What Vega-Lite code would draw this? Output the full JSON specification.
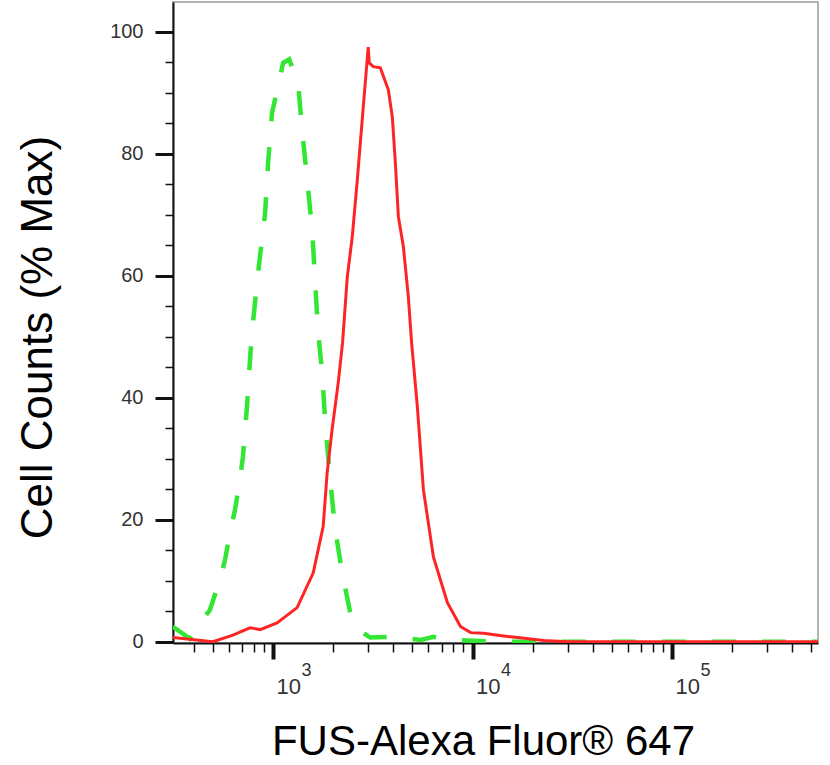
{
  "$schema": "https://vega.github.io/schema/vega-lite/v6.json",
  "width": 645,
  "height": 641,
  "autosize": "none",
  "padding": {"left": 173, "top": 2, "right": 12, "bottom": 122},
  "config": {
    "view": {"stroke": "#9a9a9a", "strokeWidth": 1.5},
    "font": "Liberation Sans",
    "axis": {
      "grid": false,
      "labelFont": "Liberation Sans",
      "titleFont": "Liberation Sans",
      "domainColor": "#111",
      "domainWidth": 2,
      "tickColor": "#111",
      "labelColor": "#333",
      "titleColor": "#000",
      "titleFontWeight": "normal"
    }
  },
  "data": {
    "values": [
      {"sample": "Control", "fl": 314, "pct": 2.5},
      {"sample": "Control", "fl": 383, "pct": 0.5},
      {"sample": "Control", "fl": 430, "pct": 3.1},
      {"sample": "Control", "fl": 482, "pct": 5.2},
      {"sample": "Control", "fl": 542, "pct": 10.2},
      {"sample": "Control", "fl": 574, "pct": 13.4},
      {"sample": "Control", "fl": 608, "pct": 17.9},
      {"sample": "Control", "fl": 644, "pct": 21.6},
      {"sample": "Control", "fl": 682, "pct": 26.6},
      {"sample": "Control", "fl": 706, "pct": 30.3},
      {"sample": "Control", "fl": 740, "pct": 38.5},
      {"sample": "Control", "fl": 766, "pct": 46.2},
      {"sample": "Control", "fl": 784, "pct": 50.7},
      {"sample": "Control", "fl": 841, "pct": 60.5},
      {"sample": "Control", "fl": 912, "pct": 70.3},
      {"sample": "Control", "fl": 944, "pct": 78.5},
      {"sample": "Control", "fl": 988, "pct": 86.7},
      {"sample": "Control", "fl": 1123, "pct": 94.9},
      {"sample": "Control", "fl": 1204, "pct": 95.5},
      {"sample": "Control", "fl": 1335, "pct": 91.6},
      {"sample": "Control", "fl": 1398, "pct": 83.9},
      {"sample": "Control", "fl": 1483, "pct": 75.7},
      {"sample": "Control", "fl": 1571, "pct": 67.5},
      {"sample": "Control", "fl": 1626, "pct": 58.9},
      {"sample": "Control", "fl": 1683, "pct": 50.7},
      {"sample": "Control", "fl": 1763, "pct": 44.1},
      {"sample": "Control", "fl": 1826, "pct": 35.9},
      {"sample": "Control", "fl": 1933, "pct": 26.6},
      {"sample": "Control", "fl": 2049, "pct": 18.4},
      {"sample": "Control", "fl": 2221, "pct": 11.3},
      {"sample": "Control", "fl": 2436, "pct": 4.8},
      {"sample": "Control", "fl": 2674, "pct": 2.0},
      {"sample": "Control", "fl": 3070, "pct": 0.7},
      {"sample": "Control", "fl": 3873, "pct": 0.8},
      {"sample": "Control", "fl": 4500, "pct": 0.6},
      {"sample": "Control", "fl": 5500, "pct": 0.3},
      {"sample": "Control", "fl": 6366, "pct": 0.8},
      {"sample": "Control", "fl": 7745, "pct": 0.3},
      {"sample": "Control", "fl": 13840, "pct": 0.0},
      {"sample": "Control", "fl": 548000, "pct": 0.0},
      {"sample": "FUS", "fl": 314, "pct": 0.7},
      {"sample": "FUS", "fl": 499, "pct": 0.0},
      {"sample": "FUS", "fl": 629, "pct": 1.1},
      {"sample": "FUS", "fl": 766, "pct": 2.3},
      {"sample": "FUS", "fl": 861, "pct": 2.0},
      {"sample": "FUS", "fl": 1047, "pct": 3.1},
      {"sample": "FUS", "fl": 1320, "pct": 5.6},
      {"sample": "FUS", "fl": 1590, "pct": 11.3},
      {"sample": "FUS", "fl": 1783, "pct": 18.9},
      {"sample": "FUS", "fl": 1867, "pct": 27.7},
      {"sample": "FUS", "fl": 1977, "pct": 34.8},
      {"sample": "FUS", "fl": 2122, "pct": 42.5},
      {"sample": "FUS", "fl": 2230, "pct": 49.0},
      {"sample": "FUS", "fl": 2355, "pct": 59.8},
      {"sample": "FUS", "fl": 2495, "pct": 66.4},
      {"sample": "FUS", "fl": 2644, "pct": 75.7},
      {"sample": "FUS", "fl": 2833, "pct": 87.7},
      {"sample": "FUS", "fl": 3000, "pct": 97.5},
      {"sample": "FUS", "fl": 3035, "pct": 94.9},
      {"sample": "FUS", "fl": 3182, "pct": 94.3},
      {"sample": "FUS", "fl": 3450, "pct": 94.1},
      {"sample": "FUS", "fl": 3784, "pct": 90.5},
      {"sample": "FUS", "fl": 3963, "pct": 86.0},
      {"sample": "FUS", "fl": 4103, "pct": 78.5},
      {"sample": "FUS", "fl": 4248, "pct": 69.7},
      {"sample": "FUS", "fl": 4500, "pct": 64.8},
      {"sample": "FUS", "fl": 4766, "pct": 56.6},
      {"sample": "FUS", "fl": 4950, "pct": 49.0},
      {"sample": "FUS", "fl": 5290, "pct": 38.5},
      {"sample": "FUS", "fl": 5673, "pct": 24.9},
      {"sample": "FUS", "fl": 6366, "pct": 13.9},
      {"sample": "FUS", "fl": 7483, "pct": 6.4},
      {"sample": "FUS", "fl": 8700, "pct": 2.5},
      {"sample": "FUS", "fl": 9770, "pct": 1.5},
      {"sample": "FUS", "fl": 11360, "pct": 1.4},
      {"sample": "FUS", "fl": 14000, "pct": 1.0},
      {"sample": "FUS", "fl": 16830, "pct": 0.7},
      {"sample": "FUS", "fl": 22750, "pct": 0.2},
      {"sample": "FUS", "fl": 30000, "pct": 0.0},
      {"sample": "FUS", "fl": 548000, "pct": 0.0}
    ]
  },
  "layer": [
    {
      "transform": [{"filter": "datum.sample == 'Control'"}],
      "mark": {"type": "line", "color": "#33e633", "strokeWidth": 4.5, "strokeDash": [24, 26], "clip": true},
      "encoding": {
        "x": {
          "field": "fl", "type": "quantitative",
          "scale": {"type": "log", "domain": [315, 539500], "nice": false},
          "axis": {
            "orient": "bottom", "title": null, "domain": false,
            "values": [400, 500, 600, 700, 800, 900, 1000, 2000, 3000, 4000, 5000, 6000, 7000, 8000, 9000, 10000, 20000, 30000, 40000, 50000, 60000, 70000, 80000, 90000, 100000, 200000, 300000, 400000, 500000],
            "labelExpr": "datum.value == 1000 ? '3' : datum.value == 10000 ? '4' : datum.value == 100000 ? '5' : ''",
            "labelFontSize": 18,
            "labelAlign": "left",
            "labelOffset": 28,
            "labelPadding": 9,
            "labelOverlap": false,
            "tickSize": 9, "tickWidth": 1.5
          }
        },
        "y": {
          "field": "pct", "type": "quantitative",
          "scale": {"domain": [-0.2, 104.9], "nice": false, "zero": false},
          "axis": {
            "orient": "left", "title": null, "labels": false, "domain": false,
            "values": [5, 10, 15, 25, 30, 35, 45, 50, 55, 65, 70, 75, 85, 90, 95],
            "tickSize": 8, "tickWidth": 1.5
          }
        }
      }
    },
    {
      "transform": [{"filter": "datum.sample == 'FUS'"}],
      "mark": {"type": "line", "color": "#ff2424", "strokeWidth": 3, "clip": true},
      "encoding": {
        "x": {
          "field": "fl", "type": "quantitative",
          "scale": {"type": "log", "domain": [315, 539500], "nice": false},
          "axis": {
            "orient": "bottom",
            "title": "FUS-Alexa Fluor® 647",
            "titleFontSize": 42,
            "titleBaseline": "alphabetic",
            "titleAlign": "center",
            "titleX": 310,
            "titleY": 111,
            "values": [1000, 10000, 100000],
            "labelExpr": "'10'",
            "labelFontSize": 22,
            "labelAlign": "left",
            "labelOffset": 3,
            "labelPadding": 17,
            "tickSize": 16,
            "tickWidth": 4
          }
        },
        "y": {
          "field": "pct", "type": "quantitative",
          "scale": {"domain": [-0.2, 104.9], "nice": false, "zero": false},
          "axis": {
            "orient": "left",
            "title": "Cell Counts (% Max)",
            "titleFontSize": 44,
            "titleAngle": -90,
            "titleBaseline": "alphabetic",
            "titleAlign": "center",
            "titleX": -122,
            "titleY": 335,
            "values": [0, 20, 40, 60, 80, 100],
            "labelFontSize": 20,
            "labelPadding": 12,
            "tickSize": 18,
            "tickWidth": 3
          }
        }
      }
    }
  ],
  "resolve": {"axis": {"x": "independent", "y": "independent"}}
}
